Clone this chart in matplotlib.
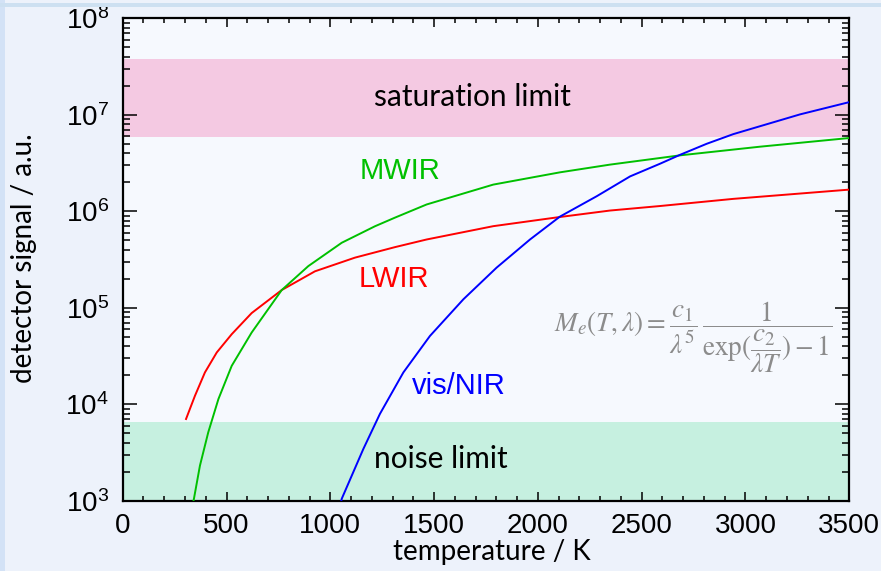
import numpy as np
import matplotlib
matplotlib.use("Agg")
import matplotlib.pyplot as plt
from matplotlib.patches import Rectangle
from matplotlib.ticker import MultipleLocator, LogLocator, LogFormatterMathtext, NullFormatter

plt.rcParams['font.family'] = ['Liberation Sans', 'DejaVu Sans']
plt.rcParams['mathtext.fontset'] = 'custom'
plt.rcParams['mathtext.rm'] = 'Liberation Sans'
plt.rcParams['mathtext.it'] = 'Liberation Sans:italic'

# Detector signal (log10, a.u.) vs. blackbody temperature for three spectral bands
lwir_T = [305, 348, 396, 453, 525, 621, 766, 926, 1119, 1312, 1464, 1785,
          2102, 2347, 2589, 2941, 3500]
lwir_log = [3.847, 4.088, 4.330, 4.537, 4.726, 4.945, 5.184, 5.378, 5.520, 5.629,
            5.708, 5.846, 5.940, 6.008, 6.055, 6.129, 6.225]

mwir_T = [330, 343, 372, 412, 461, 525, 621, 766, 894, 1055, 1215, 1312, 1464,
          1785, 2106, 2347, 2684, 3070, 3500]
mwir_log = [2.88, 3.02, 3.364, 3.709, 4.054, 4.398, 4.743, 5.184, 5.432, 5.674,
            5.845, 5.935, 6.071, 6.277, 6.404, 6.484, 6.580, 6.670, 6.760]

vis_T = [1045, 1055, 1159, 1239, 1352, 1480, 1641, 1801, 1962, 2106, 2283, 2444,
         2589, 2684, 2813, 2941, 3263, 3500]
vis_log = [2.92, 3.02, 3.536, 3.900, 4.330, 4.708, 5.088, 5.416, 5.708, 5.945,
           6.156, 6.362, 6.494, 6.585, 6.700, 6.800, 7.005, 7.132]

saturation_band = (5.9e6, 3.75e7)
noise_band = (1e2, 6.6e3)

fig = plt.figure(figsize=(8.81, 5.71), dpi=100)
fig.patch.set_facecolor('#edf2fb')
# slide-style frame around the plot
fig.patches.append(Rectangle((0, 0), 0.006, 1, transform=fig.transFigure,
                             facecolor='#d3e2f6', edgecolor='none'))
fig.patches.append(Rectangle((0, 0.988), 1, 0.006, transform=fig.transFigure,
                             facecolor='#cde0f1', edgecolor='none'))

ax = fig.add_axes([0.1393, 0.1231, 0.8247, 0.8447])
ax.set_facecolor('#f6f9fe')

ax.axhspan(*saturation_band, color='#f4c9e2', lw=0, zorder=1)
ax.axhspan(*noise_band, color='#c6f0e0', lw=0, zorder=1)

ax.plot(lwir_T, 10 ** np.array(lwir_log), color='#ff0000', lw=1.4, zorder=3)
ax.plot(mwir_T, 10 ** np.array(mwir_log), color='#00c000', lw=1.4, zorder=3)
ax.plot(vis_T, 10 ** np.array(vis_log), color='#0000ff', lw=1.4, zorder=3)

ax.set_yscale('log')
ax.set_xlim(0, 3500)
ax.set_ylim(1e3, 1e8)

ax.xaxis.set_major_locator(MultipleLocator(500))
ax.xaxis.set_minor_locator(MultipleLocator(100))
ax.yaxis.set_major_locator(LogLocator(base=10, numticks=10))
ax.yaxis.set_minor_locator(LogLocator(base=10, subs=np.arange(2, 10), numticks=10))
ax.yaxis.set_major_formatter(LogFormatterMathtext())
ax.yaxis.set_minor_formatter(NullFormatter())

ax.tick_params(axis='both', which='both', direction='in', top=True, right=True,
               width=1.1, color='black', labelsize=20)
ax.tick_params(axis='x', which='major', length=6.5, pad=9)
ax.tick_params(axis='x', which='minor', length=3.6)
ax.tick_params(axis='y', which='major', length=10, pad=10)
ax.tick_params(axis='y', which='minor', length=5)
for s in ax.spines.values():
    s.set_linewidth(1.6)

ax.set_xlabel('temperature / K', family='Lato', fontsize=20)
ax.set_ylabel('detector signal / a.u.', family='Lato', fontsize=20)
ax.xaxis.set_label_coords(0.508, -0.080)
ax.yaxis.set_label_coords(-0.118, 0.503)

ax.text(1687, 1.54e7, 'saturation limit', family='Lato', fontsize=21.5,
        ha='center', va='center', zorder=4)
ax.text(1533, 2.7e3, 'noise limit', family='Lato', fontsize=21.5,
        ha='center', va='center', zorder=4)

ax.text(1143, 2.6e6, 'MWIR', color='#00c000', fontsize=21, ha='left', va='center')
ax.text(1135, 1.97e5, 'LWIR', color='#ff0000', fontsize=21, ha='left', va='center')
ax.text(1392, 1.55e4, 'vis/NIR', color='#0000ff', fontsize=21, ha='left', va='center')

ax.text(2746, 4.9e4,
        r'$M_e(T,\lambda)=\dfrac{c_1}{\lambda^5}\,\dfrac{1}{\exp(\dfrac{c_2}{\lambda T})-1}$',
        math_fontfamily='stix', color='#8c8c8c', fontsize=19.5, ha='center', va='center')

fig.savefig('out.png', dpi=100, facecolor=fig.get_facecolor())
